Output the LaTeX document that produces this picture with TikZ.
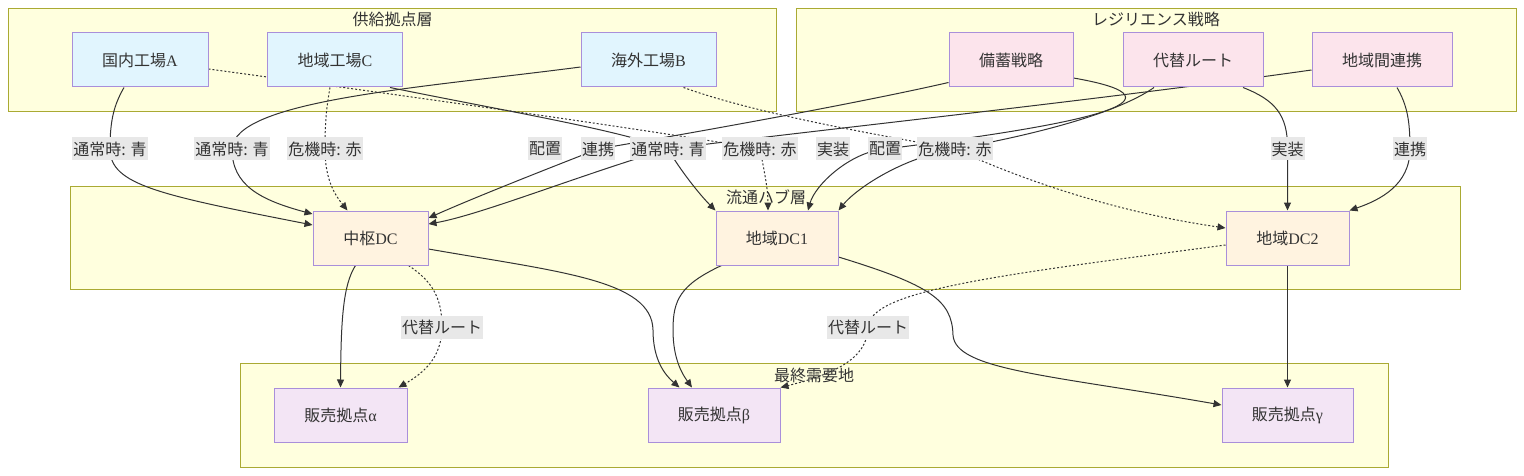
\documentclass[tikz,border=0pt]{standalone}
\usepackage{fontspec}
\setmainfont{Liberation Serif}
\newfontfamily\cjk{Noto Sans CJK JP}
\usetikzlibrary{arrows.meta,calc}
\definecolor{clfill}{HTML}{FFFFDE}
\definecolor{cldraw}{HTML}{AAAA33}
\definecolor{nodedraw}{HTML}{A98FDA}
\definecolor{supfill}{HTML}{E1F5FE}
\definecolor{resfill}{HTML}{FCE4EC}
\definecolor{hubfill}{HTML}{FFF3E0}
\definecolor{salfill}{HTML}{F3E5F5}
\definecolor{txt}{HTML}{333333}
\definecolor{lblfill}{HTML}{E8E8E8}
\pgfdeclarelayer{bg}
\pgfdeclarelayer{edgelayer}
\pgfsetlayers{bg,edgelayer,main}
\begin{document}
\begin{tikzpicture}[x=1pt,y=-1pt,
  every node/.style={font=\fontsize{16}{19}\selectfont, text=txt},
  clusterbox/.style={draw=cldraw, fill=clfill, line width=1pt, inner sep=0, anchor=north west},
  cltitle/.style={inner sep=0, font=\cjk\fontsize{16}{19}\selectfont},
  box/.style={draw=nodedraw, line width=1pt, minimum height=54pt, inner sep=0},
  sup/.style={box, fill=supfill},
  res/.style={box, fill=resfill},
  hub/.style={box, fill=hubfill},
  sal/.style={box, fill=salfill},
  lbl/.style={fill=lblfill, inner sep=1pt, minimum height=23pt, font=\cjk\fontsize{16}{19}\selectfont},
  conn/.style={draw=txt, line width=1pt, -{Triangle[length=8pt,width=7pt]}},
  crisis/.style={conn, dash pattern=on 2pt off 2pt}
]
\useasboundingbox (0,0) rectangle (1524,476);
\begin{pgfonlayer}{bg}
\node[clusterbox, minimum width=768pt, minimum height=103pt] (g1) at (8,8) {};
\node[cltitle] (t1) at ($(g1.north)+(0,11)$) {供給拠点層};
\node[clusterbox, minimum width=720pt, minimum height=103pt] (g2) at (796,8) {};
\node[cltitle] (t2) at (1156,19) {レジリエンス戦略};
\node[clusterbox, minimum width=1390pt, minimum height=103pt] (g3) at (70,186) {};
\node[cltitle] (t3) at (766,197) {流通ハブ層};
\node[clusterbox, minimum width=1148pt, minimum height=104pt] (g4) at (240,363) {};
\node[cltitle] (t4) at (814,375) {最終需要地};
\end{pgfonlayer}

% supply nodes
\node[sup, minimum width=136pt] (nA) at (140,60) {{\cjk 国内工場}A};
\node[sup, minimum width=135pt] (nC) at (335,60) {{\cjk 地域工場}C};
\node[sup, minimum width=135pt] (nB) at (648.5,60) {{\cjk 海外工場}B};
% resilience nodes
\node[res, minimum width=124pt] (nS) at (1011,60) {\cjk 備蓄戦略};
\node[res, minimum width=140pt] (nR) at (1193,60) {\cjk 代替ルート};
\node[res, minimum width=140pt] (nI) at (1382,60) {\cjk 地域間連携};
% hubs
\node[hub, minimum width=115pt] (hub0) at (370.5,238) {{\cjk 中枢}DC};
\node[hub, minimum width=122pt] (hub1) at (777,238) {{\cjk 地域}DC1};
\node[hub, minimum width=123pt] (hub2) at (1287.5,238) {{\cjk 地域}DC2};
% sales
\node[sal, minimum width=133pt] (sa) at (340.5,415) {{\cjk 販売拠点}α};
\node[sal, minimum width=132pt] (sb) at (714,415) {{\cjk 販売拠点}β};
\node[sal, minimum width=131pt] (sg) at (1287.5,415) {{\cjk 販売拠点}γ};

% edge labels
\node[lbl] (lA) at (110,149) {通常時: 青};
\node[lbl] (lB) at (232,149) {通常時: 青};
\node[lbl] (lC) at (325,149) {危機時: 赤};
\node[lbl] (lS0) at (545,149) {配置};
\node[lbl] (lI0) at (598,149) {連携};
\node[lbl] (lC1) at (668,149) {通常時: 青};
\node[lbl] (lA1) at (760,149) {危機時: 赤};
\node[lbl] (lR1) at (833,149) {実装};
\node[lbl] (lS1) at (885,149) {配置};
\node[lbl] (lB2) at (955,149) {危機時: 赤};
\node[lbl] (lR2) at (1287.5,149) {実装};
\node[lbl] (lI2) at (1410,149) {連携};
\node[lbl] (lDa) at (442,327) {代替ルート};
\node[lbl] (lDb) at (868,327) {代替ルート};

\begin{pgfonlayer}{edgelayer}
% into hub0
\draw[conn] ($(nA.south)+(-16,0)$) .. controls (114,105) and (110,120) .. (lA.center) .. controls (110,185) and (160,195) .. ($(hub0.west)+(0,-13)$);
\draw[conn] ($(nB.west)+(0,7)$) .. controls (420,88) and (234,100) .. (lB.center) .. controls (232,185) and (260,200) .. ($(hub0.west)+(0,-24)$);
\draw[crisis] ($(nC.south)+(-5,0)$) .. controls (326,110) and (325,125) .. (lC.center) .. controls (325,180) and (335,195) .. ($(hub0.north)+(-23,0)$);
\draw[conn] ($(nS.south west)+(0,-5)$) .. controls (850,105) and (680,135) .. (lI0.center) .. controls (570,160) and (480,195) .. ($(hub0.east)+(0,-20)$);
\draw[conn] ($(nI.west)+(0,10)$) .. controls (1100,100) and (800,132) .. (lC1.center) .. controls (580,175) and (480,215) .. ($(hub0.east)+(0,-14)$);
% into hub1
\draw[conn] ($(nC.south)+(55,0)$) .. controls (500,110) and (620,130) .. (lC1.center) .. controls (680,170) and (700,195) .. (hub1.north west);
\draw[crisis] ($(nA.east)+(0,9)$) .. controls (400,95) and (650,130) .. (lA1.center) .. controls (765,175) and (768,190) .. ($(hub1.north)+(-9,0)$);
\draw[conn] ($(nR.south)+(-39,0)$) .. controls (1125,108) and (1060,130) .. (lB2.center) .. controls (900,158) and (855,190) .. (hub1.north east);
\draw[conn] ($(nS.east)+(0,18)$) .. controls (1200,100) and (1080,125) .. (lS1.center) .. controls (850,152) and (815,185) .. ($(hub1.north)+(31,0)$);
% into hub2
\draw[crisis] ($(nB.south)+(35,0)$) .. controls (760,115) and (880,135) .. (lB2.center) .. controls (1000,170) and (1100,210) .. ($(hub2.west)+(0,-10)$);
\draw[conn] ($(nR.south)+(50,0)$) .. controls (1275,100) and (1288,115) .. (lR2.center) -- (hub2.north);
\draw[conn] ($(nI.south)+(15,0)$) .. controls (1407,105) and (1410,120) .. (lI2.center) .. controls (1410,185) and (1380,200) .. (hub2.north east);
% into sales
\draw[conn] ($(hub0.south)+(-15,0)$) .. controls (343,285) and (341,320) .. (sa.north);
\draw[crisis] ($(hub0.south)+(38,0)$) .. controls (430,280) and (442,295) .. (lDa.center) .. controls (442,360) and (420,375) .. ($(sa.north east)+(-9,0)$);
\draw[conn] ($(hub0.east)+(0,11)$) .. controls (560,272) and (652,280) .. (653,330) .. controls (653,360) and (665,375) .. ($(sb.north west)+(32,0)$);
\draw[conn] ($(hub1.south west)+(6,0)$) .. controls (680,285) and (673,300) .. (673,330) .. controls (673,360) and (683,375) .. ($(sb.north)+(-22,0)$);
\draw[conn] ($(hub1.east)+(0,19)$) .. controls (930,285) and (952,300) .. (953,335) .. controls (955,370) and (1050,375) .. ($(sg.west)+(0,-10)$);
\draw[crisis] ($(hub2.west)+(0,7)$) .. controls (1000,275) and (870,290) .. (lDb.center) .. controls (868,360) and (830,375) .. (sb.north east);
\draw[conn] (hub2.south) -- (sg.north);
\end{pgfonlayer}
\end{tikzpicture}
\end{document}
